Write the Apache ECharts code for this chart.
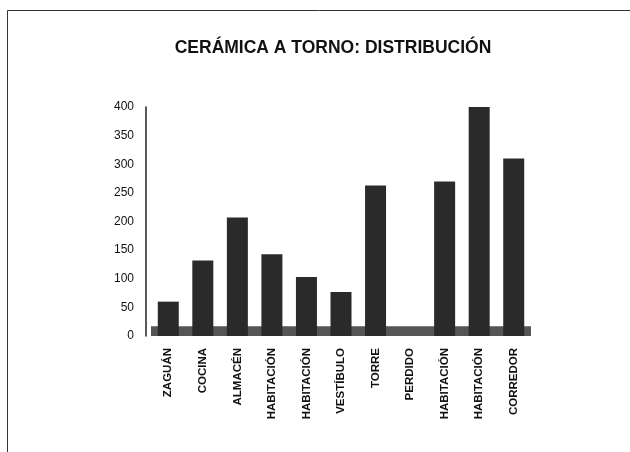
<!DOCTYPE html>
<html>
<head>
<meta charset="utf-8">
<script src="https://cdn.jsdelivr.net/npm/echarts@6/dist/echarts.min.js"></script>
<style>
  html, body { margin: 0; padding: 0; background: #fff; }
  #chart { width: 630px; height: 452px; }
</style>
</head>
<body>
<div id="chart"></div>
<script>
// Rooms of the site and the count of wheel-made pottery sherds found in each
const categories = ['ZAGUÁN', 'COCINA', 'ALMACÉN', 'HABITACIÓN', 'HABITACIÓN', 'VESTÍBULO', 'TORRE', 'PERDIDO', 'HABITACIÓN', 'HABITACIÓN', 'CORREDOR'];
const sherds = [60, 132, 207, 143, 103, 77, 263, 0, 270, 405, 310];
const yTicks = [0, 50, 100, 150, 200, 250, 300, 350, 400];

const chart = echarts.init(document.getElementById('chart'), null, { renderer: 'canvas' });

const font = '"Liberation Sans", Arial, sans-serif';

chart.setOption({
  animation: false,
  backgroundColor: '#fff',
  title: {
    text: 'CERÁMICA A TORNO: DISTRIBUCIÓN',
    left: 328,
    textAlign: 'center',
    top: 34,
    textStyle: { fontFamily: font, fontSize: 17.5, fontWeight: 'bold', color: '#111' }
  },
  graphic: [{
    type: 'rect',
    shape: { x: 7.5, y: 10.5, width: 640, height: 460 },
    style: { fill: null, stroke: '#333', lineWidth: 1 },
    silent: true
  }],
  grid: { left: 151, width: 380, top: 107, bottom: 116 },
  xAxis: {
    type: 'category',
    data: categories,
    axisLine: { show: false },
    axisTick: { show: false },
    axisLabel: {
      rotate: 90,
      interval: 0,
      margin: 12,
      fontFamily: font,
      fontSize: 11.5,
      fontWeight: 'bold',
      color: '#111'
    }
  },
  yAxis: {
    type: 'value',
    min: yTicks[0],
    max: yTicks[yTicks.length - 1],
    interval: 50,
    offset: 5,
    splitLine: { show: false },
    axisTick: { show: false },
    axisLine: { show: true, lineStyle: { color: '#222', width: 1.5 } },
    axisLabel: {
      margin: 12,
      fontFamily: font,
      fontSize: 12,
      color: '#111'
    }
  },
  series: [{
    type: 'bar',
    data: sherds,
    barWidth: 21,
    itemStyle: { color: '#2a2a2a' },
    markArea: {
      silent: true,
      itemStyle: { color: '#555' },
      data: [[{ yAxis: 0 }, { yAxis: 17 }]]
    }
  }]
});
</script>
</body>
</html>
